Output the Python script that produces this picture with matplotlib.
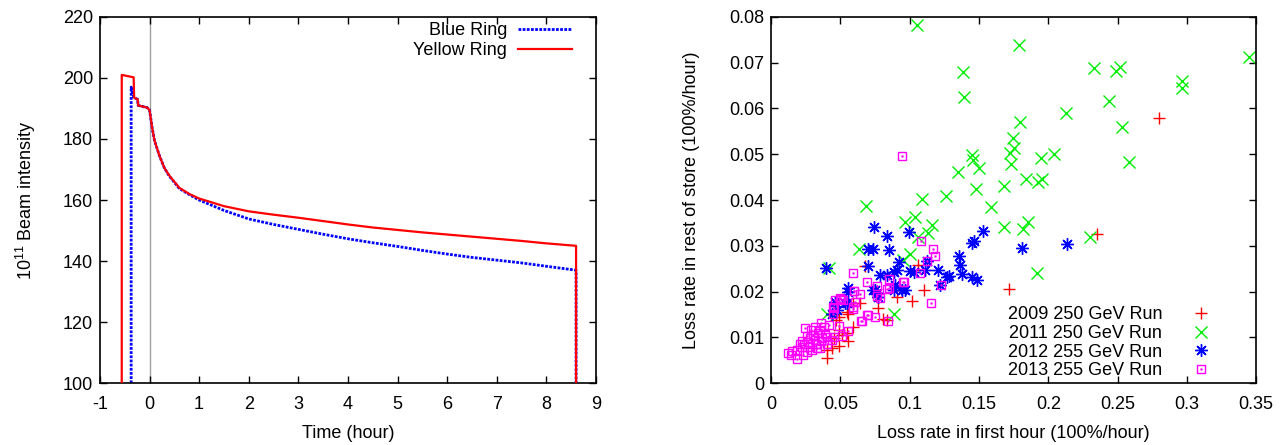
import matplotlib
matplotlib.use('Agg')
import matplotlib.pyplot as plt
from matplotlib.lines import Line2D
from matplotlib.ticker import FormatStrFormatter
from matplotlib.legend_handler import HandlerTuple

plt.rcParams['font.family'] = ['Liberation Sans', 'DejaVu Sans']
plt.rcParams['mathtext.default'] = 'regular'
plt.rcParams['axes.unicode_minus'] = False
plt.rcParams['font.size'] = 13

# beam intensity during a store (10^11), time in hours
blue_t = [-0.37, -0.37, -0.32, -0.31, -0.24, -0.23, -0.05, 0.0, 0.05, 0.1, 0.15, 0.2, 0.3, 0.4,
          0.5, 0.6, 0.8, 1.0, 1.5, 2.0, 2.5, 3.0, 3.5, 4.0, 4.5, 5.0, 5.5, 6.0, 6.5, 7.0, 7.5,
          8.0, 8.6, 8.6]
blue_i = [100, 197, 193.8, 193.5, 193, 191, 190.3, 189.5, 184, 179.5, 177, 174.5, 170.5, 167.8,
          165.8, 163.8, 161.8, 160.0, 156.6, 153.8, 152.0, 150.4, 148.8, 147.3, 146.0, 144.8,
          143.5, 142.3, 141.2, 140.3, 139.4, 138.3, 137.0, 100]
yellow_t = [-0.56, -0.56, -0.32, -0.31, -0.24, -0.23, -0.05, 0.0, 0.05, 0.1, 0.15, 0.2, 0.3, 0.4,
            0.5, 0.6, 0.8, 1.0, 1.5, 2.0, 2.5, 3.0, 3.5, 4.0, 4.5, 5.0, 5.5, 6.0, 6.5, 7.0, 7.5,
            8.0, 8.6, 8.6]
yellow_i = [100, 201, 200.2, 193.5, 193, 191, 190.3, 189.5, 184, 179.5, 177, 174.5, 170.5, 168.0,
            166.0, 164.0, 162.0, 160.5, 158.0, 156.3, 155.2, 154.2, 153.1, 152.0, 151.0, 150.2,
            149.4, 148.7, 148.0, 147.3, 146.6, 145.8, 145.0, 100]

# loss rate in first hour vs loss rate in rest of store, per run
run2009_x = [0.280, 0.235, 0.1713, 0.1063, 0.1104, 0.1015, 0.0678, 0.0907, 0.0774, 0.0810,
             0.0835, 0.0642, 0.0587, 0.0558, 0.0546, 0.0467, 0.0486, 0.0587, 0.0493, 0.0546,
             0.0450, 0.0558, 0.0491, 0.0438, 0.0402, 0.0402, 0.0510]
run2009_y = [0.0579, 0.0326, 0.0205, 0.0258, 0.0203, 0.0180, 0.0256, 0.0189, 0.0165, 0.0140,
             0.0138, 0.0176, 0.0174, 0.0152, 0.0156, 0.0139, 0.0144, 0.0123, 0.0117, 0.0109,
             0.0098, 0.0091, 0.0081, 0.0077, 0.0072, 0.0055, 0.0105]

run2011_x = [0.1056, 0.1790, 0.1388, 0.1393, 0.3445, 0.2329, 0.2487, 0.2514, 0.2964, 0.2964,
             0.2441, 0.2127, 0.1797, 0.2533, 0.1744, 0.1749, 0.1725, 0.1730, 0.1448, 0.1460,
             0.1503, 0.1946, 0.2042, 0.2579, 0.1345, 0.1087, 0.1261, 0.1480, 0.1677, 0.1840,
             0.1929, 0.1953, 0.1585, 0.1039, 0.0967, 0.1160, 0.1135, 0.1063, 0.1677, 0.1857,
             0.1816, 0.2302, 0.1003, 0.1917, 0.0955, 0.0683, 0.0637, 0.0421, 0.0402, 0.0883]
run2011_y = [0.0782, 0.0738, 0.0679, 0.0624, 0.0713, 0.0689, 0.0682, 0.0690, 0.0661, 0.0645,
             0.0616, 0.0591, 0.0571, 0.0559, 0.0536, 0.0514, 0.0502, 0.0479, 0.0498, 0.0487,
             0.0471, 0.0491, 0.0500, 0.0484, 0.0462, 0.0402, 0.0409, 0.0423, 0.0431, 0.0445,
             0.0440, 0.0446, 0.0384, 0.0362, 0.0353, 0.0345, 0.0329, 0.0320, 0.0340, 0.0353,
             0.0336, 0.0320, 0.0283, 0.0240, 0.0269, 0.0388, 0.0294, 0.0251, 0.0151, 0.0152]

run2012_x = [0.0996, 0.1528, 0.1465, 0.1448, 0.1809, 0.2134, 0.1352, 0.1123, 0.1003, 0.1032,
             0.1207, 0.1280, 0.1364, 0.1376, 0.1448, 0.1484, 0.1220, 0.0967, 0.0743, 0.0839,
             0.0702, 0.0738, 0.0854, 0.0397, 0.0702, 0.0919, 0.0787, 0.0835, 0.0907, 0.0558,
             0.0883, 0.1111, 0.1268, 0.0895, 0.0943, 0.0751, 0.0774, 0.0534, 0.0462, 0.0474,
             0.0438, 0.0558, 0.0546, 0.0763, 0.0738, 0.0883]
run2012_y = [0.0331, 0.0333, 0.0311, 0.0307, 0.0296, 0.0304, 0.0278, 0.0267, 0.0245, 0.0243,
             0.0247, 0.0234, 0.0258, 0.0238, 0.0231, 0.0225, 0.0214, 0.0203, 0.0342, 0.0322,
             0.0294, 0.0294, 0.0291, 0.0251, 0.0256, 0.0265, 0.0236, 0.0236, 0.0247, 0.0207,
             0.0243, 0.0247, 0.0232, 0.0214, 0.0203, 0.0203, 0.0189, 0.0174, 0.0178, 0.0160,
             0.0152, 0.0200, 0.0174, 0.0196, 0.0203, 0.0203]

run2013_x = [0.0943, 0.1080, 0.1167, 0.1183, 0.1128, 0.1075, 0.0960, 0.1225, 0.1155, 0.0594,
             0.0690, 0.0763, 0.0852, 0.0955, 0.0839, 0.0763, 0.0787, 0.0601, 0.0505, 0.0517,
             0.0450, 0.0594, 0.0587, 0.0443, 0.0702, 0.0746, 0.0650, 0.0842, 0.0491, 0.0378,
             0.0313, 0.0289, 0.0341, 0.0558, 0.0510, 0.0450, 0.0402, 0.0258, 0.0226, 0.0269,
             0.0318, 0.0361, 0.0402, 0.0330, 0.0281, 0.0240, 0.0185, 0.0149, 0.0120, 0.0144,
             0.0185, 0.0233, 0.0293, 0.0354, 0.0245, 0.0438, 0.0300, 0.0350, 0.0280, 0.0370,
             0.0220, 0.0260, 0.0320, 0.0390, 0.0420, 0.0360, 0.0205, 0.0606, 0.0642, 0.0695,
             0.0655, 0.0462, 0.0446, 0.0498, 0.0599, 0.0847]
run2013_y = [0.0497, 0.0310, 0.0292, 0.0278, 0.0267, 0.0241, 0.0220, 0.0214, 0.0176, 0.0240,
             0.0220, 0.0212, 0.0227, 0.0220, 0.0205, 0.0190, 0.0187, 0.0202, 0.0183, 0.0181,
             0.0165, 0.0161, 0.0167, 0.0152, 0.0149, 0.0145, 0.0136, 0.0136, 0.0125, 0.0122,
             0.0123, 0.0117, 0.0109, 0.0114, 0.0103, 0.0100, 0.0101, 0.0103, 0.0092, 0.0090,
             0.0095, 0.0092, 0.0085, 0.0076, 0.0079, 0.0085, 0.0072, 0.0070, 0.0066, 0.0061,
             0.0052, 0.0061, 0.0072, 0.0076, 0.0120, 0.0094, 0.0105, 0.0115, 0.0098, 0.0098,
             0.0078, 0.0068, 0.0085, 0.0108, 0.0128, 0.0132, 0.0085, 0.0178, 0.0195, 0.0149,
             0.0136, 0.0181, 0.0167, 0.0187, 0.0202, 0.0207]


def style_axes(ax):
    ax.tick_params(direction='in', top=True, right=True, length=5, width=1, labelsize=13)
    ax.tick_params(axis='x', pad=9)
    ax.tick_params(axis='y', pad=5)
    for sp in ax.spines.values():
        sp.set_linewidth(1.2)


fig = plt.figure(figsize=(12.81, 4.45), dpi=100)
ax1 = fig.add_axes([0.078, 0.139, 0.3872, 0.823])
ax2 = fig.add_axes([0.602, 0.139, 0.3786, 0.823])

# left: intensity over the store
ax1.axvline(0, color='#a0a0a0', lw=1, zorder=1)
ax1.plot(blue_t, blue_i, color='#0000ff', lw=2.0, ls=(0, (1, 0.5)), label='Blue Ring', zorder=2)
ax1.plot(yellow_t, yellow_i, color='#ff0000', lw=1.6, label='Yellow Ring', zorder=3)
ax1.set_xlim(-1, 9)
ax1.set_ylim(100, 220)
ax1.set_xticks(range(-1, 10))
ax1.set_yticks(range(100, 221, 20))
ax1.set_xlabel('Time (hour)', labelpad=9)
ax1.set_ylabel('$10^{11}$ Beam intensity', labelpad=18)
style_axes(ax1)
ax1.legend(loc='upper right', bbox_to_anchor=(0.952, 0.985), frameon=False, markerfirst=False,
           handlelength=3.0, handletextpad=0.6, borderpad=0, borderaxespad=0,
           labelspacing=0.15, fontsize=13)

# right: loss rates
mk = dict(ls='none', mew=1.0)
ax2.plot(run2009_x, run2009_y, marker='+', ms=9, color='#ff0000', **mk)
ax2.plot(run2011_x, run2011_y, marker='x', ms=8, color='#00ee00', **mk)
ax2.plot(run2012_x, run2012_y, marker=(8, 2, 0), ms=9, color='#0000ff', **mk)
ax2.plot(run2013_x, run2013_y, marker='s', ms=5.5, mfc='none', color='#ff00ff', **mk)
ax2.plot(run2013_x, run2013_y, marker='s', ms=1, color='#ff00ff', ls='none', mew=0.5)
ax2.set_xlim(0, 0.35)
ax2.set_ylim(0, 0.08)
ax2.set_xticks([0, 0.05, 0.1, 0.15, 0.2, 0.25, 0.3, 0.35])
ax2.set_yticks([0, 0.01, 0.02, 0.03, 0.04, 0.05, 0.06, 0.07, 0.08])
ax2.xaxis.set_major_formatter(FormatStrFormatter('%g'))
ax2.yaxis.set_major_formatter(FormatStrFormatter('%g'))
ax2.set_xlabel('Loss rate in first hour (100%/hour)', labelpad=9)
ax2.set_ylabel('Loss rate in rest of store (100%/hour)', labelpad=21)
style_axes(ax2)

h09 = Line2D([], [], marker='+', ms=9, color='#ff0000', **mk)
h11 = Line2D([], [], marker='x', ms=8, color='#00ee00', **mk)
h12 = Line2D([], [], marker=(8, 2, 0), ms=9, color='#0000ff', **mk)
h13a = Line2D([], [], marker='s', ms=5.5, mfc='none', color='#ff00ff', **mk)
h13b = Line2D([], [], marker='s', ms=1, color='#ff00ff', ls='none', mew=0.5)
ax2.legend([h09, h11, h12, (h13a, h13b)],
           ['2009 250 GeV Run', '2011 250 GeV Run', '2012 255 GeV Run', '2013 255 GeV Run'],
           handler_map={tuple: HandlerTuple(ndivide=1)},
           loc='lower right', bbox_to_anchor=(0.914, 0.01), frameon=False, markerfirst=False,
           handlelength=1.5, handletextpad=1.4, borderpad=0, borderaxespad=0,
           labelspacing=0.1, fontsize=13)

fig.savefig('out.png', dpi=100)
